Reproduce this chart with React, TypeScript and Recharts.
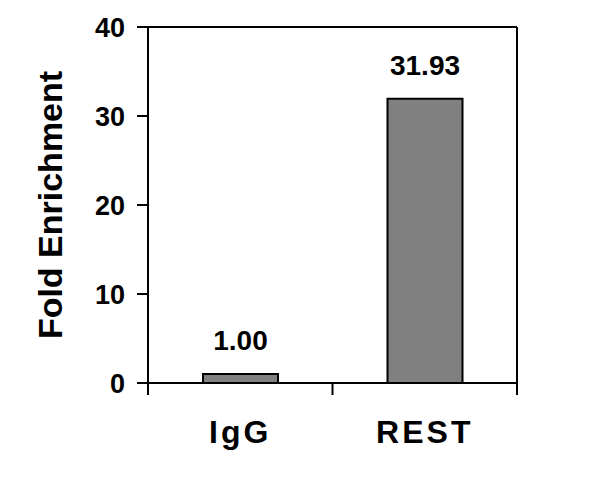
import { BarChart, Bar, XAxis, YAxis, LabelList, Label, CartesianGrid } from 'recharts';

const categories = ['IgG', 'REST'];
const foldValues = [1.0, 31.93];
const valueLabels = ['1.00', '31.93'];
const yTicks = [0, 10, 20, 30, 40];

const data = categories.map((name, i) => ({ name, value: foldValues[i], label: valueLabels[i] }));

const font = '"Liberation Sans", Arial, sans-serif';
const LABEL_GAP = 37;
const TICK_LEN = 12;

// category label plus tick marks at the band edges (Excel style)
function CategoryTick(props: any) {
  const { x, y, payload, index, visibleTicksCount } = props;
  const half = payload.offset ?? 0;
  const axisY = y - LABEL_GAP;
  const isLast = index === (visibleTicksCount ?? categories.length) - 1;
  return (
    <g>
      <line x1={x - half} x2={x - half} y1={axisY} y2={axisY + TICK_LEN} stroke="#000" strokeWidth={2} />
      {isLast && <line x1={x + half} x2={x + half} y1={axisY} y2={axisY + TICK_LEN} stroke="#000" strokeWidth={2} />}
      <text x={x} y={y} dy="0.71em" textAnchor="middle" fill="#000" fontSize={32} fontWeight="bold" fontFamily={font} letterSpacing={3}>
        {payload.value}
      </text>
    </g>
  );
}

export default function App() {
  return (
    <div style={{ position: 'absolute', left: 0, top: 0, width: 600, height: 484, background: '#fff' }}>
      <BarChart width={600} height={484} data={data} margin={{ top: 27, right: 83, bottom: 0, left: 0 }} barSize={75}>
        <CartesianGrid
          stroke="#000"
          strokeWidth={2}
          horizontalCoordinatesGenerator={({ offset }: any) => [offset.top]}
          verticalCoordinatesGenerator={({ offset }: any) => [offset.left + offset.width]}
        />
        <XAxis
          dataKey="name"
          height={101}
          tickSize={0}
          tickMargin={LABEL_GAP}
          axisLine={{ stroke: '#000', strokeWidth: 2 }}
          tickLine={false}
          tick={<CategoryTick />}
          interval={0}
        />
        <YAxis
          domain={[0, 40]}
          ticks={yTicks}
          width={148}
          tickSize={11}
          tickMargin={12}
          axisLine={{ stroke: '#000', strokeWidth: 2 }}
          tickLine={{ stroke: '#000', strokeWidth: 2 }}
          tick={{ fill: '#000', fontSize: 27, fontWeight: 'bold', fontFamily: font }}
        >
          <Label
            content={({ viewBox }: any) => {
              const cx = viewBox.x + 50;
              const cy = viewBox.y + viewBox.height / 2;
              return (
                <text
                  x={cx}
                  y={cy}
                  transform={`rotate(-90 ${cx} ${cy})`}
                  textAnchor="middle"
                  dominantBaseline="central"
                  fill="#000"
                  fontSize={34}
                  fontWeight="bold"
                  fontFamily={font}
                >
                  Fold Enrichment
                </text>
              );
            }}
          />
        </YAxis>
        <Bar dataKey="value" fill="#808080" stroke="#000" strokeWidth={2} isAnimationActive={false}>
          <LabelList dataKey="label" position="top" offset={24} fill="#000" fontSize={28} fontWeight="bold" fontFamily={font} />
        </Bar>
      </BarChart>
    </div>
  );
}
